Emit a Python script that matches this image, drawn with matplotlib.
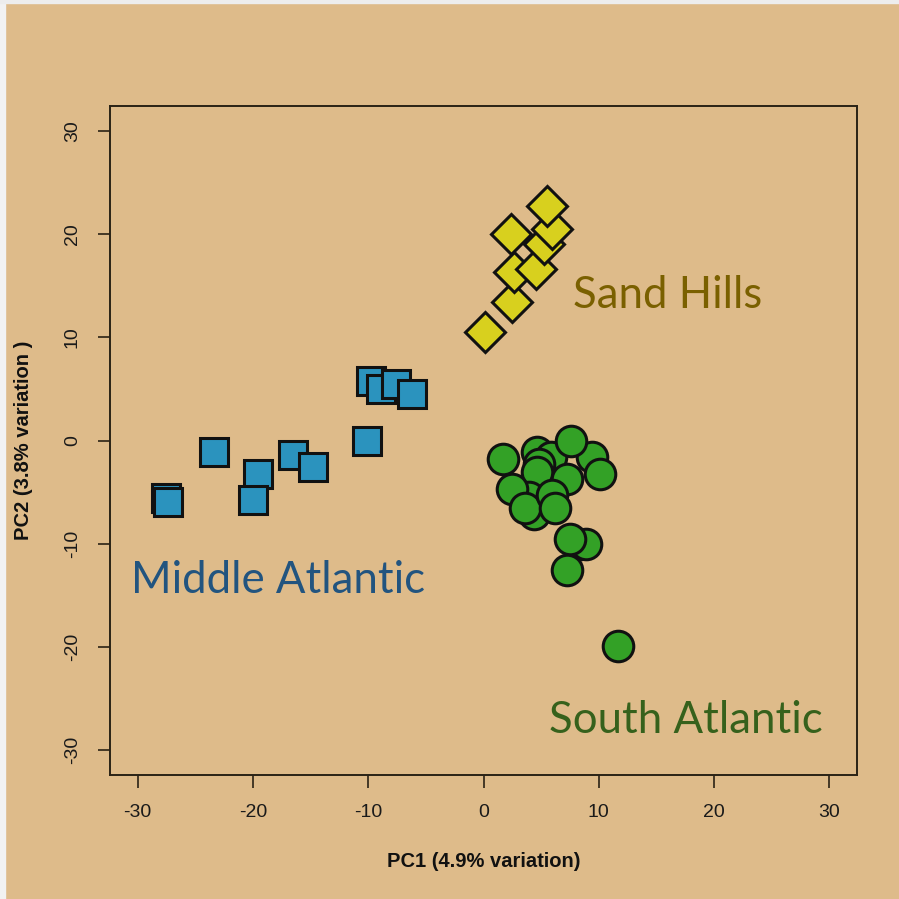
import matplotlib
matplotlib.use("Agg")
import matplotlib.pyplot as plt
from matplotlib.patches import Rectangle

# PCA scores
mid_x = [-27.55, -27.4, -23.4, -19.6, -19.97, -16.5, -14.77, -10.15, -9.74, -8.93, -7.55, -6.24]
mid_y = [-5.55, -5.97, -1.13, -3.2, -5.8, -1.38, -2.58, 0.0, 5.8, 5.0, 5.49, 4.52]

sand_x = [0.17, 2.49, 2.63, 4.51, 5.23, 2.34, 5.96, 5.52]
sand_y = [10.5, 13.4, 16.3, 16.6, 19.0, 20.0, 20.5, 22.75]

south_x = [4.66, 5.81, 9.43, 4.8, 1.71, 7.55, 4.66, 7.26, 10.09, 3.93, 4.36, 2.49,
           3.64, 5.96, 6.24, 8.41, 8.85, 7.49, 7.26, 11.65]
south_y = [-1.13, -1.61, -1.55, -2.26, -1.77, -0.07, -3.07, -3.71, -3.23, -5.49, -7.1, -4.68,
           -6.52, -5.32, -6.52, -10.0, -10.07, -9.52, -12.58, -19.94]

ticks = [-30, -20, -10, 0, 10, 20, 30]

bg = '#DEBB8A'
fig = plt.figure(figsize=(8.99, 8.99), dpi=100, facecolor=bg)
ax = fig.add_axes([0.1224, 0.1379, 0.8309, 0.7442])
ax.set_facecolor(bg)

# thin light strips at the left and top edge of the slide
fig.patches.append(Rectangle((0, 0), 5 / 899, 1, transform=fig.transFigure, color='#F2F2F2', zorder=0))
fig.patches.append(Rectangle((0, 1 - 3 / 899), 1, 3 / 899, transform=fig.transFigure, color='#EDEDED', zorder=0))

ax.plot(mid_x, mid_y, 's', ms=20, mfc='#2B93BE', mec='#111111', mew=2.2, ls='none')
ax.plot(sand_x, sand_y, 'D', ms=20, mfc='#D8D01E', mec='#111111', mew=2.2, ls='none')
ax.plot(south_x, south_y, 'o', ms=22, mfc='#33A126', mec='#111111', mew=2.2, ls='none')

ax.set_xlim(-32.4, 32.4)
ax.set_ylim(-32.4, 32.4)
ax.set_xticks(ticks)
ax.set_yticks(ticks)
ax.set_xticklabels([str(t) for t in ticks])
ax.set_yticklabels([str(t) for t in ticks], rotation=90, va='center')

for s in ax.spines.values():
    s.set_linewidth(1.4)
    s.set_color('#2A2215')
ax.tick_params(direction='out', length=9, width=1.2, color='#2A2215',
               labelsize=14, pad=12, labelcolor='#1A1A1A')
for lab in ax.get_xticklabels() + ax.get_yticklabels():
    lab.set_family('Liberation Sans')

ax.set_xlabel('PC1 (4.9% variation)', fontsize=14.5, fontweight='bold',
              family='Liberation Sans', labelpad=22, color='#111111')
ax.set_ylabel('PC2 (3.8% variation )', fontsize=14.5, fontweight='bold',
              family='Liberation Sans', labelpad=22, color='#111111')

ax.text(-30.6, -14.8, 'Middle Atlantic', fontsize=31.5, family='Lato', color='#22547F',
        ha='left', va='baseline')
ax.text(7.8, 12.8, 'Sand Hills', fontsize=31.5, family='Lato', color='#7A6000',
        ha='left', va='baseline')
ax.text(5.64, -28.3, 'South Atlantic', fontsize=31.5, family='Lato', color='#36611C',
        ha='left', va='baseline')

fig.savefig('out.png', dpi=100, facecolor=bg)
